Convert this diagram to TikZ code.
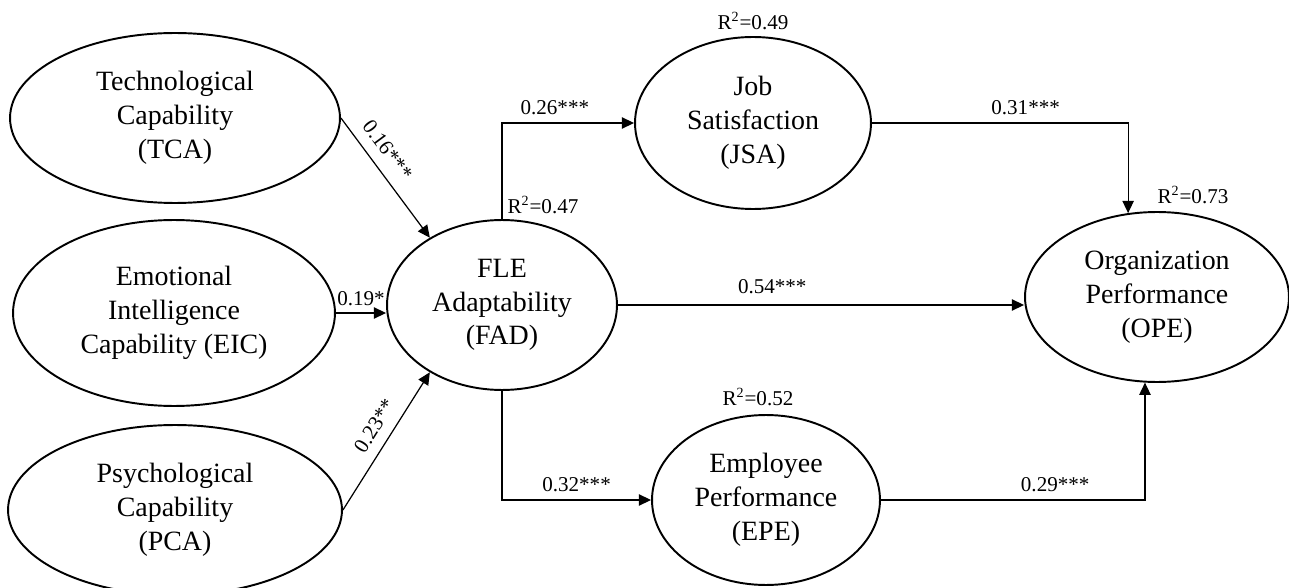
\documentclass[tikz,border=0pt]{standalone}
\usepackage{fontspec}
\setmainfont{Liberation Serif}
\usetikzlibrary{shapes.geometric,arrows.meta}
\newcommand{\rsq}[1]{R\textsuperscript{2}=#1}

\begin{document}
\begin{tikzpicture}[x=0.02cm, y=-0.02cm, line width=0.7pt,
  latent/.style={ellipse, draw, line width=1.1pt, inner sep=0pt, align=center, font=\fontsize{15.9}{19.2}\selectfont},
  coef/.style={font=\fontsize{12}{14}\selectfont, inner sep=2pt},
  link/.style={-{Triangle[length=7pt, width=6.5pt]}, line width=0.7pt}]
  \useasboundingbox (0,0) rectangle (1289,588);
  \node[latent, minimum width=6.6cm, minimum height=3.4cm] (tca) at (175,118) {Technological\\Capability\\(TCA)};
  \node[latent, minimum width=6.44cm, minimum height=3.72cm] (eic) at (174,313) {Emotional\\Intelligence\\Capability (EIC)};
  \node[latent, minimum width=6.68cm, minimum height=3.4cm] (pca) at (175,510) {Psychological\\Capability\\(PCA)};
  \node[latent, minimum width=4.6cm, minimum height=3.4cm] (fad) at (502,305) {FLE\\Adaptability\\(FAD)};
  \node[latent, minimum width=4.72cm, minimum height=3.44cm] (jsa) at (753,123) {Job\\Satisfaction\\(JSA)};
  \node[latent, minimum width=4.56cm, minimum height=3.4cm] (epe) at (766,500) {Employee\\Performance\\(EPE)};
  \node[latent, minimum width=5.28cm, minimum height=3.4cm] (ope) at (1157,297) {Organization\\Performance\\(OPE)};
  \node[coef] (r2fad) at (543,205) {\rsq{0.47}};
  \node[coef] (r2jsa) at (753,21) {\rsq{0.49}};
  \node[coef] (r2epe) at (758,397) {\rsq{0.52}};
  \node[coef] (r2ope) at (1193,195) {\rsq{0.73}};
  \draw[link] (tca.east) -- (fad.137) node[coef, sloped, above=4pt, pos=0.36] (btca) {0.16***};
  \draw[link] (eic.east) -- (eic.east -| fad.west) node[coef, above=2pt, pos=0.5] (beic) {0.19*};
  \draw[link] (pca.east) -- (fad.-137) node[coef, sloped, above=4pt, pos=0.54] (bpca) {0.23**};
  \draw[link] (fad.north) |- (jsa.west) node[coef, above=2.5pt, pos=0.7] (bjsa) {0.26***};
  \draw[link] (fad.east) -- (fad.east -| ope.west) node[coef, above=4pt, pos=0.38] (bfad) {0.54***};
  \draw[link] (fad.south) |- (epe.west) node[coef, above=2.5pt, pos=0.75] (bepe) {0.32***};
  \draw[link] (jsa.east) -| (ope.109) node[coef, above=2.5pt, pos=0.3] (bope1) {0.31***};
  \draw[link] (epe.east) -| (ope.-98) node[coef, above=2.5pt, pos=0.33] (bope2) {0.29***};
\end{tikzpicture}
\end{document}
